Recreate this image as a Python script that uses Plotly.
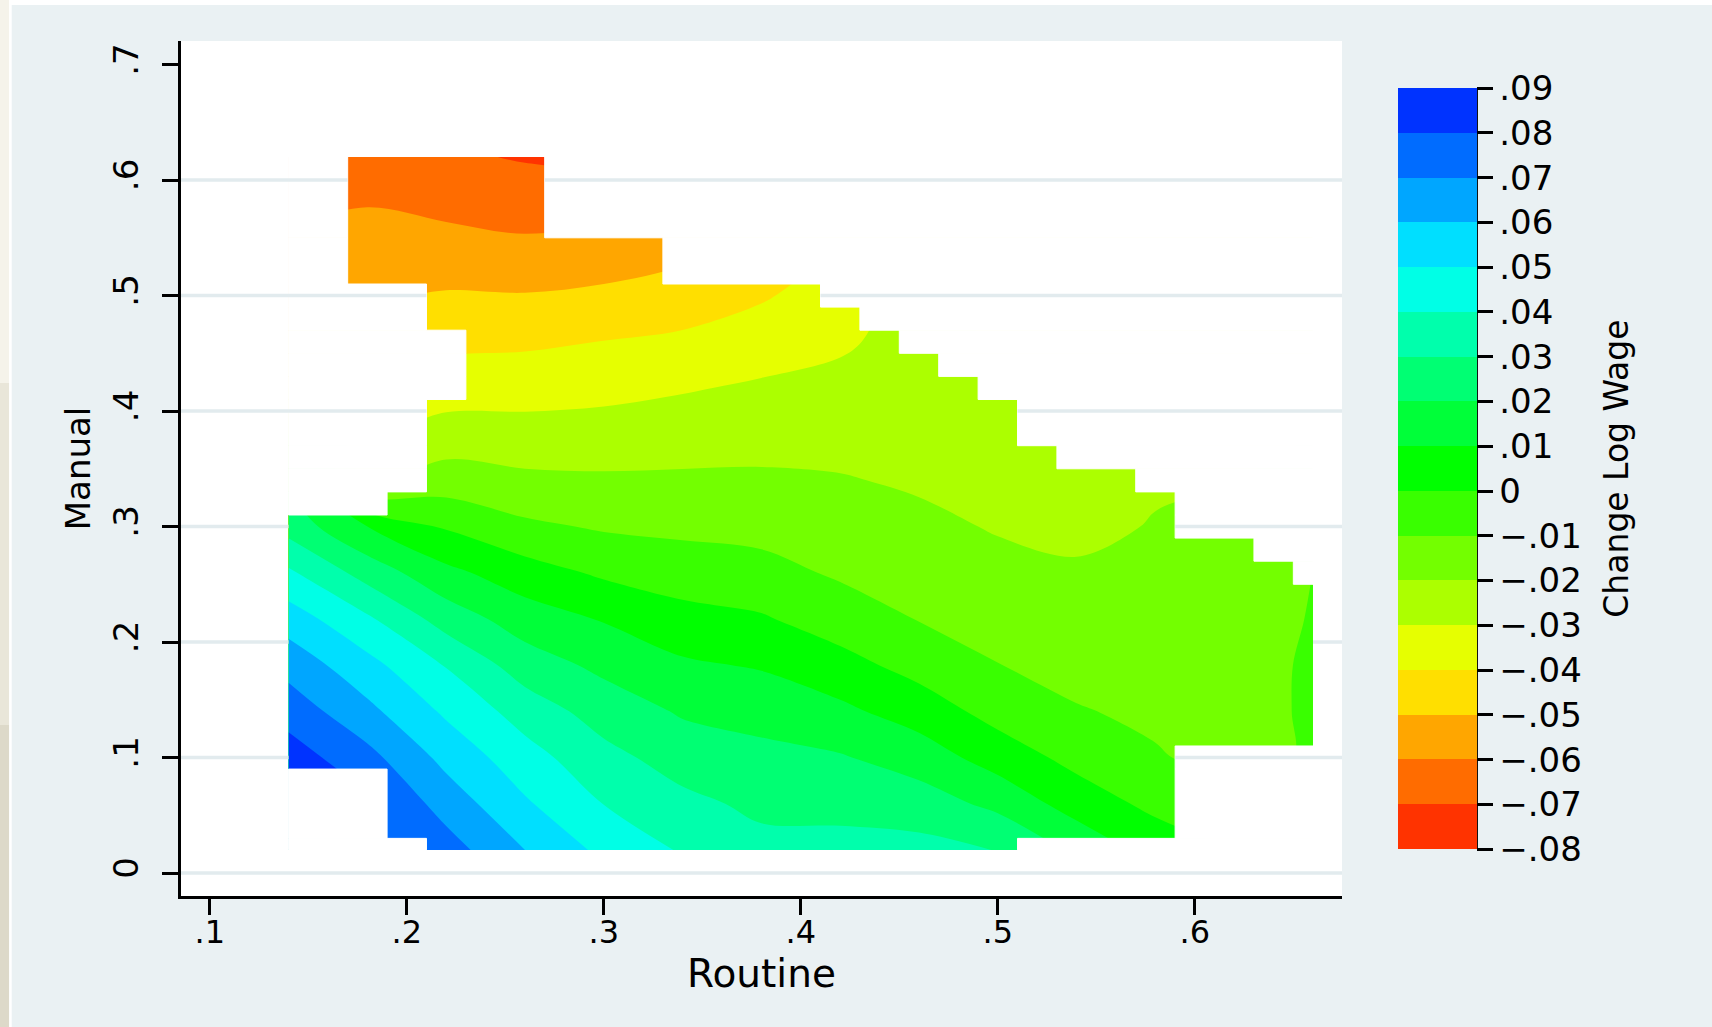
import plotly.graph_objects as go

# ---------------- data ----------------
routine = [0.14, 0.18, 0.22, 0.26, 0.30, 0.34, 0.38, 0.42, 0.46, 0.50, 0.54, 0.58, 0.62, 0.66]
manual = [0.02, 0.06, 0.10, 0.14, 0.18, 0.22, 0.26, 0.30, 0.34, 0.38, 0.42, 0.46, 0.50, 0.54, 0.58, 0.62]

# change in log wage, one row per manual value (bottom to top), one column per routine value
wage_change = [
    [0.103, 0.079, 0.0745, 0.060, 0.0475, 0.039, 0.033, 0.0333, 0.0332, 0.0297, 0.018, 0.006, 0.000, -0.004],
    [0.094, 0.082, 0.0658, 0.0513, 0.0398, 0.0326, 0.0278, 0.027, 0.0247, 0.0175, 0.0054, -0.0025, -0.006, -0.007],
    [0.085, 0.0732, 0.057, 0.044, 0.0331, 0.0256, 0.0227, 0.0208, 0.0154, 0.0054, -0.003, -0.0092, -0.013, -0.009],
    [0.0759, 0.0626, 0.0483, 0.0356, 0.0256, 0.0189, 0.0165, 0.0122, 0.0053, -0.0036, -0.0094, -0.0117, -0.0135, -0.0087],
    [0.0664, 0.0532, 0.0394, 0.025, 0.0176, 0.0115, 0.0091, 0.0034, -0.0035, -0.0098, -0.0128, -0.0137, -0.0135, -0.0088],
    [0.0552, 0.0416, 0.0256, 0.015, 0.0093, 0.0034, 0.001, -0.0048, -0.0104, -0.0136, -0.0159, -0.0156, -0.014, -0.0095],
    [0.0417, 0.0259, 0.0126, 0.0044, -0.0016, -0.0048, -0.0068, -0.0113, -0.0142, -0.0174, -0.0189, -0.0176, -0.0145, -0.0098],
    [0.026, 0.010, -0.0012, -0.0081, -0.0111, -0.0122, -0.0131, -0.0153, -0.0179, -0.0207, -0.0221, -0.0195, -0.017, -0.012],
    [0.018, -0.022, -0.0152, -0.0179, -0.0186, -0.0185, -0.0185, -0.0194, -0.0212, -0.0232, -0.0252, -0.021, -0.020, -0.016],
    [0.000, -0.030, -0.0259, -0.0262, -0.0258, -0.0246, -0.0237, -0.0233, -0.0239, -0.0257, -0.028, -0.026, -0.024, -0.020],
    [-0.020, -0.038, -0.0346, -0.034, -0.0328, -0.0308, -0.0287, -0.0271, -0.0262, -0.0281, -0.031, -0.030, -0.028, -0.025],
    [-0.035, -0.045, -0.0423, -0.0416, -0.0398, -0.0378, -0.0347, -0.0315, -0.026, -0.031, -0.034, -0.033, -0.031, -0.028],
    [-0.048, -0.051, -0.0492, -0.0495, -0.048, -0.0464, -0.0411, -0.035, -0.027, -0.033, -0.037, -0.036, -0.034, -0.031],
    [-0.057, -0.055, -0.0562, -0.0577, -0.056, -0.052, -0.047, -0.040, -0.034, -0.037, -0.040, -0.040, -0.037, -0.034],
    [-0.063, -0.0605, -0.0626, -0.0645, -0.063, -0.058, -0.053, -0.046, -0.040, -0.040, -0.043, -0.043, -0.040, -0.037],
    [-0.068, -0.066, -0.0685, -0.0708, -0.072, -0.064, -0.059, -0.052, -0.045, -0.043, -0.046, -0.046, -0.043, -0.040],
]

# extent of the observed support: one entry per band of manual values
row_bottom = [0.02, 0.03, 0.09, 0.11, 0.25, 0.27, 0.29, 0.31, 0.33, 0.35, 0.37, 0.41, 0.43, 0.45, 0.47, 0.49, 0.51, 0.55]
row_top    = [0.03, 0.09, 0.11, 0.25, 0.27, 0.29, 0.31, 0.33, 0.35, 0.37, 0.41, 0.43, 0.45, 0.47, 0.49, 0.51, 0.55, 0.62]
row_left   = [0.21, 0.19, 0.14, 0.14, 0.14, 0.14, 0.14, 0.19, 0.21, 0.21, 0.21, 0.23, 0.23, 0.23, 0.21, 0.21, 0.17, 0.17]
row_right  = [0.51, 0.59, 0.59, 0.66, 0.65, 0.63, 0.59, 0.59, 0.57, 0.53, 0.51, 0.49, 0.47, 0.45, 0.43, 0.41, 0.33, 0.27]

x_ticks = [0.1, 0.2, 0.3, 0.4, 0.5, 0.6]
x_tick_labels = [".1", ".2", ".3", ".4", ".5", ".6"]
y_ticks = [0.0, 0.1, 0.2, 0.3, 0.4, 0.5, 0.6, 0.7]
y_tick_labels = ["0", ".1", ".2", ".3", ".4", ".5", ".6", ".7"]
y_grid = [0.0, 0.1, 0.2, 0.3, 0.4, 0.5, 0.6]

cb_ticks = [-0.08, -0.07, -0.06, -0.05, -0.04, -0.03, -0.02, -0.01, 0.0,
            0.01, 0.02, 0.03, 0.04, 0.05, 0.06, 0.07, 0.08, 0.09]
cb_tick_labels = ["\u2212.08", "\u2212.07", "\u2212.06", "\u2212.05", "\u2212.04", "\u2212.03",
                  "\u2212.02", "\u2212.01", "0", ".01", ".02", ".03", ".04", ".05", ".06",
                  ".07", ".08", ".09"]

# band colours, lowest band (-.08 to -.07) first
band_colors = ["#FF3300", "#FF6C00", "#FFA600", "#FFDF00", "#E6FF00", "#ACFF00",
               "#73FF00", "#39FF00", "#00FF00", "#00FF39", "#00FF73", "#00FFAC",
               "#00FFE6", "#00DFFF", "#00A6FF", "#006CFF", "#0033FF"]

X_RANGE = [0.0854, 0.6747]
Y_RANGE = [-0.0199, 0.7204]

FONT = "DejaVu Sans"
BG = "#EAF1F3"
GRID = "#E2EBEE"

# ---------------- figure ----------------
fig = go.Figure()

n_b = len(band_colors)
contour_scale = [[i / (n_b - 1), c] for i, c in enumerate(band_colors)]
step = cb_ticks[1] - cb_ticks[0]

fig.add_trace(go.Contour(
    x=routine, y=manual, z=wage_change,
    autocontour=False,
    contours=dict(start=cb_ticks[1], end=cb_ticks[-2], size=step,
                  coloring="fill", showlines=False),
    colorscale=contour_scale,
    line=dict(width=0),
    showscale=False,
    hoverinfo="skip",
))

# white mask outside the observed support
mask_y, mask_w, mask_x, mask_base = [], [], [], []
x_lo, x_hi = routine[0], routine[-1]
for b, t, l, r in zip(row_bottom, row_top, row_left, row_right):
    if l > x_lo:
        mask_y.append((b + t) / 2); mask_w.append(t - b)
        mask_base.append(x_lo); mask_x.append(l - x_lo)
    if r < x_hi:
        mask_y.append((b + t) / 2); mask_w.append(t - b)
        mask_base.append(r); mask_x.append(x_hi - r)

fig.add_trace(go.Bar(
    orientation="h", y=mask_y, x=mask_x, base=mask_base, width=mask_w,
    marker=dict(color="white", line=dict(color="white", width=1)),
    showlegend=False, hoverinfo="skip",
))

# grid lines only where no surface is drawn (Stata draws them beneath the plot)
gx, gy = [], []
for g in y_grid:
    row = None
    for b, t, l, r in zip(row_bottom, row_top, row_left, row_right):
        if b < g < t:
            row = (l, r)
    if row is None:
        gx += [X_RANGE[0], X_RANGE[1], None]; gy += [g, g, None]
    else:
        gx += [X_RANGE[0], row[0], None, row[1], X_RANGE[1], None]
        gy += [g, g, None, g, g, None]
fig.add_trace(go.Scatter(x=gx, y=gy, mode="lines",
                         line=dict(color=GRID, width=3.5),
                         showlegend=False, hoverinfo="skip"))

# colour legend (discrete)
cb_scale = []
for i, c in enumerate(band_colors):
    cb_scale.append([i / n_b, c])
    cb_scale.append([(i + 1) / n_b, c])

fig.add_trace(go.Scatter(
    x=[-1], y=[-1], mode="markers",
    marker=dict(color=[0], cmin=cb_ticks[0], cmax=cb_ticks[-1], colorscale=cb_scale,
                showscale=True, size=1,
                colorbar=dict(
                    x=1.0480, xanchor="left", xpad=0,
                    y=0.4998, yanchor="middle", ypad=0,
                    thicknessmode="pixels", thickness=79,
                    lenmode="pixels", len=761,
                    outlinewidth=0,
                    tickmode="array", tickvals=cb_ticks, ticktext=cb_tick_labels,
                    ticks="outside", ticklen=16, tickwidth=2.5, tickcolor="black",
                    tickfont=dict(family=FONT, size=34, color="black"),
                )),
    showlegend=False, hoverinfo="skip",
))

fig.update_layout(
    width=1712, height=1027,
    margin=dict(l=181, r=370, t=41, b=131, autoexpand=False),
    paper_bgcolor=BG, plot_bgcolor="white",
    barmode="overlay", showlegend=False,
    font=dict(family=FONT, color="black"),
    xaxis=dict(range=X_RANGE, showgrid=False, zeroline=False,
               showline=True, linecolor="black", linewidth=2.5,
               ticks="outside", ticklen=16, tickwidth=2.5, tickcolor="black",
               tickmode="array", tickvals=x_ticks, ticktext=x_tick_labels,
               tickfont=dict(family=FONT, size=32, color="black"),
               ticklabelstandoff=-10,
               title=dict(text="Routine", font=dict(family=FONT, size=39, color="black"),
                          standoff=7)),
    yaxis=dict(range=Y_RANGE, showgrid=False, zeroline=False,
               showline=True, linecolor="black", linewidth=2.5,
               ticks="outside", ticklen=16, tickwidth=2.5, tickcolor="black",
               tickmode="array", tickvals=y_ticks, ticktext=y_tick_labels,
               tickangle=-90,
               tickfont=dict(family=FONT, size=34, color="black"),
               ticklabelstandoff=11,
               title=dict(text="Manual", font=dict(family=FONT, size=34, color="black"),
                          standoff=5)),
    annotations=[
        dict(text="Change Log Wage", xref="paper", yref="paper", x=1.2369, y=0.4998,
             xanchor="center", yanchor="middle", textangle=-90, showarrow=False,
             font=dict(family=FONT, size=33, color="black")),
    ],
    shapes=[
        # axis line at the right of the colour legend
        dict(type="line", xref="paper", yref="paper", x0=1.1160, x1=1.1160,
             y0=0.0550, y1=0.9447, line=dict(color="black", width=2.5)),
        # thin white strip at the very top
        dict(type="rect", xref="paper", yref="paper", x0=-0.16, x1=1.33,
             y0=1.0421, y1=1.05, fillcolor="white", line=dict(width=0), layer="below"),
        # screenshot edge at the left
        dict(type="rect", xref="paper", yref="paper", x0=-0.16, x1=-0.1458,
             y0=-0.20, y1=1.05, fillcolor="white", line=dict(width=0), layer="below"),
        dict(type="rect", xref="paper", yref="paper", x0=-0.16, x1=-0.1481,
             y0=0.60, y1=1.05, fillcolor="#F5F3EA", line=dict(width=0), layer="below"),
        dict(type="rect", xref="paper", yref="paper", x0=-0.16, x1=-0.1481,
             y0=0.20, y1=0.60, fillcolor="#E9E6D9", line=dict(width=0), layer="below"),
        dict(type="rect", xref="paper", yref="paper", x0=-0.16, x1=-0.1481,
             y0=-0.20, y1=0.20, fillcolor="#DDD9C9", line=dict(width=0), layer="below"),
    ],
)

fig.write_html("out.html",
               config={"displayModeBar": False},
               post_script="document.body.style.margin='0';document.body.style.padding='0';")
